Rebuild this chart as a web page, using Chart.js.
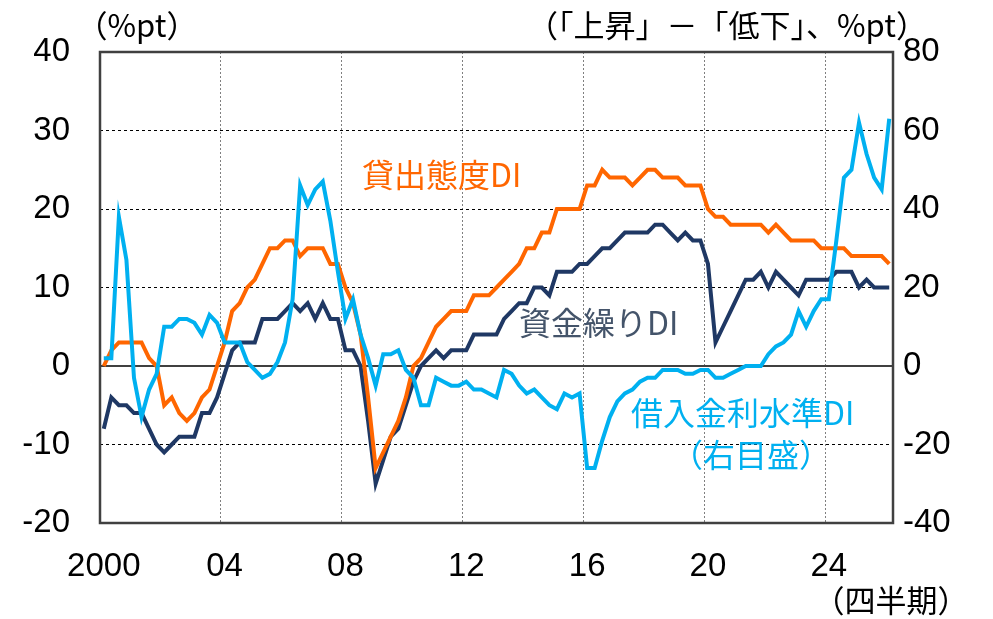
<!DOCTYPE html>
<html lang="ja">
<head>
<meta charset="utf-8">
<script src="https://cdn.jsdelivr.net/npm/chart.js@4.4.1/dist/chart.umd.min.js"></script>
<style>
  html, body { margin: 0; padding: 0; background: #fff; }
  #wrap { width: 993px; height: 619px; }
</style>
</head>
<body>
<div id="wrap"><canvas id="diChart" width="993" height="619"></canvas></div>
<script>
// 四半期 (2000Q1 - 2026Q1)
const quarters = [];
for (let y = 2000; y <= 2026; y++) {
    for (let q = 1; q <= 4; q++) {
        if (quarters.length < 105) quarters.push(y + 'Q' + q);
    }
}
const yearLabels = ['2000', '04', '08', '12', '16', '20', '24'];

// 貸出態度DI (左目盛)
const lendingAttitude = [
    0, 2, 3, 3,   3, 3, 1, 0,   -5, -4, -6, -7,   -6, -4, -3, 0,
    3, 7, 8, 10,   11, 13, 15, 15,   16, 16, 14, 15,   15, 15, 13, 13,
    10, 8, 4, -4,   -13, -11, -9, -7,   -4, 0, 1, 3,   5, 6, 7, 7,
    7, 9, 9, 9,   10, 11, 12, 13,   15, 15, 17, 17,   20, 20, 20, 20,
    23, 23, 25, 24,   24, 24, 23, 24,   25, 25, 24, 24,   24, 23, 23, 23,
    20, 19, 19, 18,   18, 18, 18, 18,   17, 18, 17, 16,   16, 16, 16, 15,
    15, 15, 15, 14,   14, 14, 14, 14,   13
];

// 資金繰りDI (左目盛)
const cashFlow = [
    -8, -4, -5, -5,   -6, -6, -8, -10,   -11, -10, -9, -9,   -9, -6, -6, -4,
    -1, 2, 3, 3,   3, 6, 6, 6,   7, 8, 7, 8,   6, 8, 6, 6,
    2, 2, 0, -7,   -15, -12, -9, -8,   -5, -2, 0, 1,   2, 1, 2, 2,
    2, 4, 4, 4,   4, 6, 7, 8,   8, 10, 10, 9,   12, 12, 12, 13,
    13, 14, 15, 15,   16, 17, 17, 17,   17, 18, 18, 17,   16, 17, 16, 16,
    13, 3, 5, 7,   9, 11, 11, 12,   10, 12, 11, 10,   9, 11, 11, 11,
    11, 12, 12, 12,   10, 11, 10, 10,   10
];

// 借入金利水準DI (右目盛)
const borrowingRate = [
    2, 2, 38, 27,   -3, -13, -6, -2,   10, 10, 12, 12,   11, 8, 13, 11,
    6, 6, 6, 1,   -1, -3, -2, 1,   6, 17, 46, 41,   45, 47, 37, 24,
    12, 17, 8, 2,   -5, 3, 3, 4,   -1, -3, -10, -10,   -3, -4, -5, -5,
    -4, -6, -6, -7,   -8, -1, -2, -5,   -7, -6, -8, -10,   -11, -7, -8, -7,
    -26, -26, -19, -13,   -9, -7, -6, -4,   -3, -3, -1, -1,   -1, -2, -2, -1,
    -1, -3, -3, -2,   -1, 0, 0, 0,   3, 5, 6, 8,   14, 10, 14, 17,
    17, 32, 48, 50,   62, 54, 48, 45,   63
];

const ORANGE = '#FF6600';
const NAVY = '#1F3864';
const SKY = '#00B0F0';
const tickFont = { family: '"Liberation Sans", Arial, sans-serif', size: 33 };
const jpFont = '"Noto Sans CJK JP", "Noto Sans", sans-serif';

// 枠・ゼロ線・注記
const decor = {
    id: 'decor',
    beforeDatasetsDraw(chart) {
        const { ctx, chartArea: a, scales } = chart;
        const y0 = scales.y.getPixelForValue(0);
        ctx.save();
        ctx.strokeStyle = '#404040';
        ctx.lineWidth = 2;
        ctx.beginPath();
        ctx.moveTo(a.left, y0);
        ctx.lineTo(a.right, y0);
        ctx.stroke();
        ctx.restore();
    },
    afterDatasetsDraw(chart) {
        const { ctx, chartArea: a } = chart;
        ctx.save();
        ctx.strokeStyle = '#404040';
        ctx.lineWidth = 2.5;
        ctx.strokeRect(a.left, a.top, a.right - a.left, a.bottom - a.top);
        ctx.restore();
    },
    afterDraw(chart) {
        const ctx = chart.ctx;
        const put = (text, x, y, color, size, align) => {
            ctx.fillStyle = color;
            ctx.font = size + 'px ' + jpFont;
            ctx.textAlign = align;
            ctx.textBaseline = 'middle';
            ctx.fillText(text, x, y);
        };
        ctx.save();
        put('（%pt）', 137, 25, '#000', 31, 'center');
        put('（「上昇」－「低下」、%pt）', 727, 25, '#000', 31, 'center');
        put('（四半期）', 891, 600, '#000', 31, 'center');
        put('貸出態度DI', 362, 175, ORANGE, 32, 'left');
        put('資金繰りDI', 519, 323, '#44546A', 32, 'left');
        put('借入金利水準DI', 631, 413, SKY, 32, 'left');
        put('（右目盛）', 751, 455, SKY, 32, 'center');
        ctx.restore();
    }
};

new Chart(document.getElementById('diChart'), {
    type: 'line',
    data: {
        labels: quarters,
        datasets: [
            { label: '借入金利水準DI', data: borrowingRate, yAxisID: 'y1', borderColor: SKY },
            { label: '貸出態度DI', data: lendingAttitude, yAxisID: 'y', borderColor: ORANGE },
            { label: '資金繰りDI', data: cashFlow, yAxisID: 'y', borderColor: NAVY }
        ]
    },
    options: {
        responsive: false,
        animation: false,
        devicePixelRatio: 1,
        layout: { padding: { top: 52, left: 0, right: 0, bottom: 0 } },
        elements: {
            line: { borderWidth: 4, tension: 0, fill: false },
            point: { radius: 0, hoverRadius: 0 }
        },
        plugins: { legend: { display: false }, tooltip: { enabled: false } },
        scales: {
            x: {
                type: 'category',
                offset: true,
                border: { display: false, dash: [2, 2] },
                grid: {
                    offset: true,
                    drawTicks: false,
                    lineWidth: 1,
                    color: ctx => (ctx.index % 16 === 0 && ctx.index > 0 && ctx.index < 105) ? '#7F7F7F' : 'rgba(0,0,0,0)'
                },
                ticks: {
                    autoSkip: false,
                    maxRotation: 0,
                    padding: 24,
                    color: '#000',
                    font: tickFont,
                    callback: (val, idx) => idx % 16 === 0 ? yearLabels[idx / 16] : ''
                },
                afterFit: s => { s.height = 96; }
            },
            y: {
                position: 'left',
                min: -20,
                max: 40,
                border: { display: false, dash: [3, 3] },
                grid: { drawTicks: false, color: '#000', lineWidth: 1 },
                ticks: { stepSize: 10, padding: 30, color: '#000', font: tickFont },
                afterFit: s => { s.width = 100; }
            },
            y1: {
                position: 'right',
                min: -40,
                max: 80,
                border: { display: false },
                grid: { display: false, drawTicks: false },
                ticks: { stepSize: 20, padding: 10, color: '#000', font: tickFont },
                afterFit: s => { s.width = 100; }
            }
        }
    },
    plugins: [decor]
});
</script>
</body>
</html>
